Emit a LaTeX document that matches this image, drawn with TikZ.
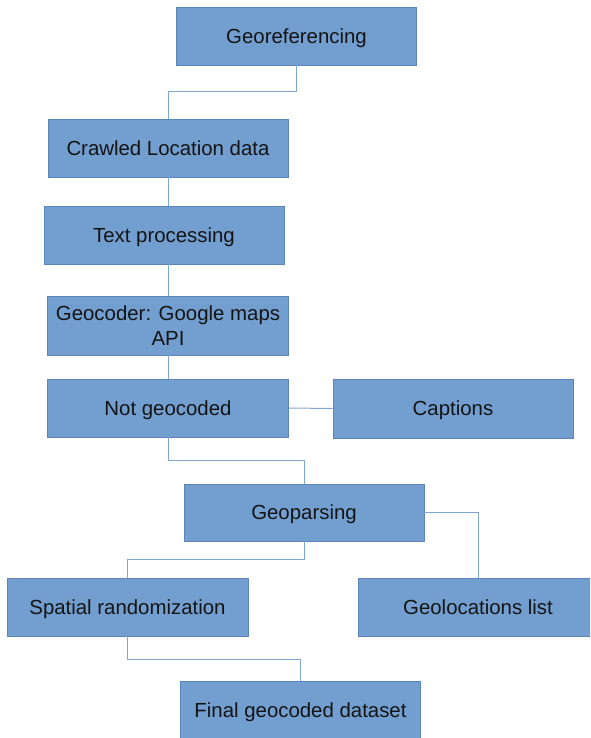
\documentclass[tikz,border=0pt]{standalone}
\usepackage{fontspec}
\setmainfont{Liberation Sans}
\definecolor{boxfill}{HTML}{729FCF}
\definecolor{boxline}{HTML}{5A86BC}
\definecolor{conn}{HTML}{7FA6D4}
\definecolor{txt}{HTML}{141414}
\begin{document}
\begin{tikzpicture}[x=1pt,y=-1pt]
\tikzset{
  blk/.style={draw=boxline, line width=0.9pt, fill=boxfill, inner sep=0pt,
    minimum width=240pt, minimum height=58pt, align=center, text=txt,
    text height=18.5pt, text depth=4.3pt,
    font=\fontsize{20.4}{25}\selectfont},
  link/.style={draw=conn, line width=1pt}
}
\useasboundingbox (0,0) rectangle (590,738);
\begin{scope}
\clip (0,0) rectangle (590,738);
\node[blk] (geo) at (296.5,36) {Georeferencing};
\node[blk] (crawl) at (168,148) {Crawled Location data};
\node[blk] (textp) at (164,235) {Text processing};
\node[blk, minimum height=59pt, minimum width=241pt, text height={}, text depth={}] (gcod) at (168,325.5) {Geocoder: Google maps\\API};
\node[blk, minimum width=241pt] (notg) at (168,408) {Not geocoded};
\node[blk, minimum height=59pt] (capt) at (453,408.5) {Captions};
\node[blk, minimum height=57pt] (gpars) at (304,512.5) {Geoparsing};
\node[blk, minimum width=241pt] (spat) at (127.5,607) {Spatial randomization};
\node[blk] (gloc) at (478,607) {Geolocations list};
\node[blk] (final) at (300.5,710.5) {Final geocoded dataset};

\draw[link] (geo.south) -- ++(0,26) -| (crawl.north);
\draw[link] (crawl.south) -- (crawl.south |- textp.north);
\draw[link] (gcod.north |- textp.south) -- (gcod.north);
\draw[link] (gcod.south) -- (notg.north);
\draw[link] (notg.east) -- (capt.west);
\draw[link] (notg.south) -- ++(0,23) -| (gpars.north);
\draw[link] (gpars.south) -- ++(0,18.5) -| (spat.north);
\draw[link] (gpars.east) -| (gloc.north);
\draw[link] (spat.south) -- ++(0,23) -| (final.north);
\end{scope}
\end{tikzpicture}
\end{document}
